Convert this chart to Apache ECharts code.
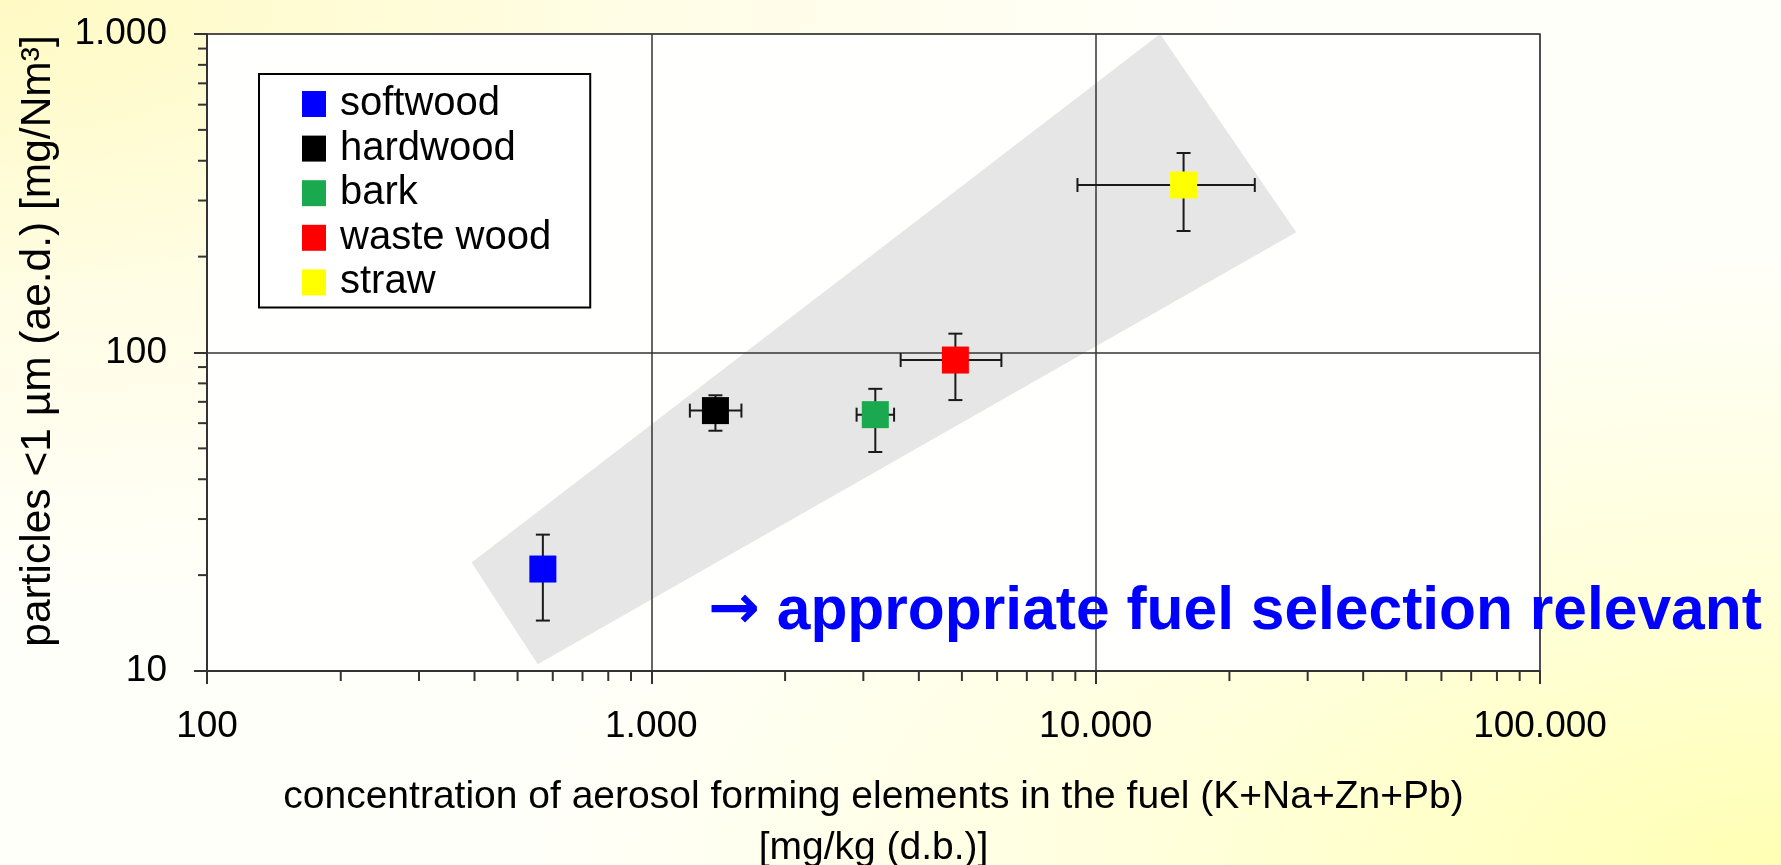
<!DOCTYPE html>
<html>
<head>
<meta charset="utf-8">
<title>Fine particle emissions vs. aerosol forming elements</title>
<script src="https://cdn.jsdelivr.net/npm/echarts@6/dist/echarts.min.js"></script>
<style>
  html, body { margin: 0; padding: 0; width: 1781px; height: 865px; overflow: hidden; }
  body {
    background:
      radial-gradient(ellipse at 0% 0%, rgba(255, 250, 195, 1) 0%, rgba(255, 252, 215, 0.6) 25%, rgba(255, 255, 250, 0) 50%),
      radial-gradient(ellipse at 100% 100%, rgba(255, 255, 180, 1) 0%, rgba(255, 255, 200, 0.6) 25%, rgba(255, 255, 250, 0) 50%),
      #fffffa;
  }
  #chart { width: 1781px; height: 865px; }
</style>
</head>
<body>
<div id="chart"></div>
<script>
// Fuel types and their colours
const fuels = ['softwood', 'hardwood', 'bark', 'waste wood', 'straw'];
const fuelColors = ['#0000ff', '#000000', '#1aa94f', '#ff0000', '#ffff00'];

// Mean aerosol forming elements in the fuel [mg/kg d.b.] and their ranges
const elementConc = [570, 1394, 3192, 4834, 15770];
const elementLow  = [null, 1221, 2897, 3640, 9100];
const elementHigh = [null, 1595, 3518, 6135, 22810];

// Mean particle emissions < 1 µm [mg/Nm³] and their ranges
const particles     = [20.9, 65.7, 63.8, 94.7, 335.7];
const particlesLow  = [14.4, 56.8, 48.7, 70.9, 240.7];
const particlesHigh = [26.8, 73.4, 76.9, 114.6, 423];

// Shaded trend band (corner points in data units)
const bandX = [394, 555, 28270, 13960];
const bandY = [21.9, 10.5, 238.5, 1000];

// Axis tick labels (decades)
const xTickLabels = ['100', '1.000', '10.000', '100.000'];
const yTickLabels = ['10', '100', '1.000'];

// Minor tick values (2..9 within each decade)
const xMinorTicks = [];
[100, 1000, 10000].forEach(d => { for (let k = 2; k <= 9; k++) xMinorTicks.push(k * d); });
const yMinorTicks = [];
[10, 100].forEach(d => { for (let k = 2; k <= 9; k++) yMinorTicks.push(k * d); });

const FONT = '"Liberation Sans", Arial, sans-serif';
const chart = echarts.init(document.getElementById('chart'), null, { renderer: 'canvas' });

const xMin = 100, xMax = 100000, yMin = 10, yMax = 1000;

const scatterSeries = fuels.map((name, i) => ({
  name: name,
  type: 'scatter',
  symbol: 'rect',
  symbolSize: 27,
  z: 6,
  itemStyle: { color: fuelColors[i], opacity: 1 },
  emphasis: { disabled: true },
  data: [[elementConc[i], particles[i]]]
}));

const errorData = fuels.map((_, i) => [
  elementConc[i], particles[i],
  elementLow[i] == null ? elementConc[i] : elementLow[i],
  elementHigh[i] == null ? elementConc[i] : elementHigh[i],
  particlesLow[i], particlesHigh[i]
]);

const errStyle = { stroke: '#1a1a1a', lineWidth: 2 };
const CAP = 7;

const option = {
  animation: false,
  backgroundColor: 'transparent',
  textStyle: { fontFamily: FONT },
  grid: {
    left: 207, right: 241, top: 34, bottom: 194,
    containLabel: false,
    outerBoundsMode: 'none',
    show: true,
    backgroundColor: '#fffffd',
    borderColor: '#a3a3a3',
    borderWidth: 2
  },
  legend: {
    data: fuels,
    orient: 'vertical',
    left: 259, top: 74,
    icon: 'rect',
    itemWidth: 24, itemHeight: 26,
    itemGap: 4.6,
    padding: [10, 39, 5, 43],
    backgroundColor: '#ffffff',
    borderColor: '#000000',
    borderWidth: 2,
    borderRadius: 0,
    selectedMode: false,
    textStyle: { fontFamily: FONT, fontSize: 40, color: '#000', padding: [0, 0, 0, 9] }
  },
  xAxis: {
    type: 'log', logBase: 10, min: xMin, max: xMax,
    z: 3,
    name: 'concentration of aerosol forming elements in the fuel (K+Na+Zn+Pb)\n[mg/kg (d.b.)]',
    nameLocation: 'middle',
    nameGap: 101,
    nameTextStyle: { fontFamily: FONT, fontSize: 39, color: '#000', lineHeight: 51 },
    axisLine: { show: true, lineStyle: { color: '#333', width: 2 } },
    axisTick: { show: true, inside: false, length: 13, lineStyle: { color: '#333', width: 2 } },
    minorTick: { show: false },
    splitLine: { show: true, lineStyle: { color: '#333', width: 1.5 } },
    axisLabel: {
      margin: 37,
      fontFamily: FONT, fontSize: 37, color: '#000',
      formatter: v => xTickLabels[Math.round(Math.log10(v)) - 2]
    }
  },
  yAxis: {
    type: 'log', logBase: 10, min: yMin, max: yMax,
    z: 3,
    name: 'particles <1 µm (ae.d.) [mg/Nm³]',
    nameLocation: 'middle',
    nameGap: 147,
    nameTextStyle: { fontFamily: FONT, fontSize: 42.5, color: '#000', padding: [0, 0, 0, 23] },
    axisLine: { show: true, lineStyle: { color: '#333', width: 2 } },
    axisTick: { show: true, inside: false, length: 13, lineStyle: { color: '#333', width: 2 } },
    minorTick: { show: false },
    splitLine: { show: true, lineStyle: { color: '#333', width: 1.5 } },
    axisLabel: {
      margin: 40,
      fontFamily: FONT, fontSize: 37, color: '#000',
      formatter: v => yTickLabels[Math.round(Math.log10(v)) - 1]
    }
  },
  graphic: [{
    type: 'text',
    left: 708, top: 581,
    z: 10,
    style: {
      text: '{arrow|→} appropriate fuel selection relevant',
      font: 'bold 60.5px ' + FONT,
      fill: '#0000ff',
      rich: {
        arrow: { fontFamily: '"DejaVu Sans", sans-serif', fontWeight: 'bold', fontSize: 62, fill: '#0000ff' }
      }
    }
  }],
  series: [
    {
      // shaded trend band
      type: 'custom',
      name: 'band',
      z: 1,
      clip: true,
      silent: true,
      data: [0],
      renderItem: (params, api) => {
        const pts = bandX.map((x, i) => api.coord([x, bandY[i]]));
        return { type: 'polygon', shape: { points: pts }, style: { fill: '#e6e6e6' } };
      }
    },
    {
      // minor ticks along the x axis
      type: 'custom',
      name: 'xMinor',
      z: 4, clip: false, silent: true,
      data: xMinorTicks.map(v => [v]),
      renderItem: (params, api) => {
        const p = api.coord([api.value(0), yMin]);
        return { type: 'line', shape: { x1: p[0], y1: p[1], x2: p[0], y2: p[1] + 10 }, style: { stroke: '#333', lineWidth: 2 } };
      }
    },
    {
      // minor ticks along the y axis
      type: 'custom',
      name: 'yMinor',
      z: 4, clip: false, silent: true,
      data: yMinorTicks.map(v => [v]),
      renderItem: (params, api) => {
        const p = api.coord([xMin, api.value(0)]);
        return { type: 'line', shape: { x1: p[0] - 9, y1: p[1], x2: p[0], y2: p[1] }, style: { stroke: '#333', lineWidth: 2 } };
      }
    },
    {
      // error bars
      type: 'custom',
      name: 'errors',
      z: 5, clip: false, silent: true,
      encode: { x: 0, y: 1 },
      data: errorData,
      renderItem: (params, api) => {
        const x = api.value(0), y = api.value(1);
        const xl = api.value(2), xh = api.value(3), yl = api.value(4), yh = api.value(5);
        const c = api.coord([x, y]);
        const pl = api.coord([xl, y]), ph = api.coord([xh, y]);
        const ql = api.coord([x, yl]), qh = api.coord([x, yh]);
        const children = [
          { type: 'line', shape: { x1: c[0], y1: ql[1], x2: c[0], y2: qh[1] }, style: errStyle },
          { type: 'line', shape: { x1: c[0] - CAP, y1: ql[1], x2: c[0] + CAP, y2: ql[1] }, style: errStyle },
          { type: 'line', shape: { x1: c[0] - CAP, y1: qh[1], x2: c[0] + CAP, y2: qh[1] }, style: errStyle }
        ];
        if (xh > xl) {
          children.push(
            { type: 'line', shape: { x1: pl[0], y1: c[1], x2: ph[0], y2: c[1] }, style: errStyle },
            { type: 'line', shape: { x1: pl[0], y1: c[1] - CAP, x2: pl[0], y2: c[1] + CAP }, style: errStyle },
            { type: 'line', shape: { x1: ph[0], y1: c[1] - CAP, x2: ph[0], y2: c[1] + CAP }, style: errStyle }
          );
        }
        return { type: 'group', children: children };
      }
    }
  ].concat(scatterSeries)
};

chart.setOption(option);
</script>
</body>
</html>
